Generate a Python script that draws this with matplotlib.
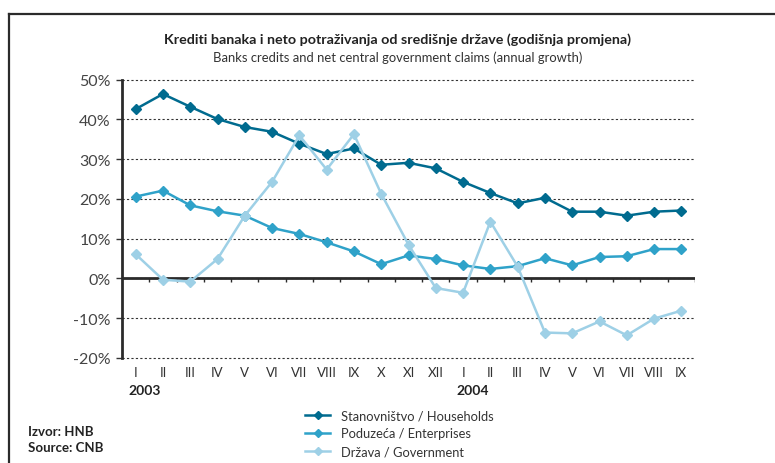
import numpy as np
import matplotlib
matplotlib.use("Agg")
import matplotlib.pyplot as plt
from matplotlib.lines import Line2D

plt.rcParams['font.family'] = ['Lato', 'DejaVu Sans']

# podaci
months = ['I', 'II', 'III', 'IV', 'V', 'VI', 'VII', 'VIII', 'IX', 'X', 'XI', 'XII',
          'I', 'II', 'III', 'IV', 'V', 'VI', 'VII', 'VIII', 'IX']
years = ['2003', '2004']
year_start = [0, 12]

households = [42.6, 46.4, 43.2, 40.1, 38.1, 36.9, 33.9, 31.3, 32.7, 28.6, 29.1, 27.7,
              24.3, 21.5, 18.9, 20.3, 16.8, 16.8, 15.8, 16.8, 17.1]
enterprises = [20.6, 22.1, 18.4, 16.9, 15.8, 12.7, 11.2, 9.1, 6.8, 3.6, 5.8, 4.9,
               3.3, 2.4, 3.1, 5.1, 3.3, 5.4, 5.6, 7.4, 7.4]
government = [6.1, -0.3, -0.8, 4.9, 15.8, 24.3, 36.0, 27.4, 36.3, 21.3, 8.5, -2.4,
              -3.6, 14.3, 3.0, -13.6, -13.8, -10.8, -14.3, -10.1, -8.1]

labels = ['Stanovništvo / Households', 'Poduzeća / Enterprises', 'Država / Government']
colors = ['#006b8f', '#2fa2c9', '#9ed0e6']

fig = plt.figure(figsize=(7.75, 4.64), dpi=100)
ax = fig.add_axes([122 / 775, 1 - 359 / 464, (695 - 122) / 775, (359 - 80.7) / 464])

x = np.arange(len(months))
for vals, lab, c in zip([households, enterprises, government], labels, colors):
    ax.plot(x, vals, '-', color=c, lw=1.8, marker='D', ms=5.5, label=lab)

ax.set_xlim(-0.5, len(months) - 0.5)
ax.set_ylim(-20, 50)
ax.set_yticks(np.arange(-20, 51, 10))
ax.set_yticklabels(['%d%%' % v for v in np.arange(-20, 51, 10)], fontsize=11.5, color='#444444')
ax.set_xticks(x)
ax.set_xticklabels(months, fontsize=9.5, color='#333333')
ax.tick_params(axis='x', length=0, pad=6)
ax.tick_params(axis='y', length=4, width=1, color='#333333', pad=4)

for s in ['top', 'right', 'bottom']:
    ax.spines[s].set_visible(False)
ax.spines['left'].set_linewidth(2)
ax.spines['left'].set_color('#2b2b2b')

ax.yaxis.grid(True, linestyle=(0, (2, 2)), color='#333333', lw=0.8)
for gl in ax.get_ygridlines():
    gl.set_clip_on(False)
ax.set_axisbelow(True)
ax.axhline(0, color='#2b2b2b', lw=2, zorder=1.5)
ax.vlines(np.arange(len(months)) + 0.5, -0.8, 0, color='#2b2b2b', lw=1, zorder=1.5)

for yr, st in zip(years, year_start):
    ax.text(st - 0.25, -0.115, yr, transform=ax.get_xaxis_transform(),
            fontsize=10, fontweight='bold', ha='left', va='center', color='#222222')

fig.text(0.513, 1 - 40 / 464, 'Krediti banaka i neto potraživanja od središnje države (godišnja promjena)',
         fontsize=10.3, fontweight='bold', ha='center', va='center', color='#222222')
fig.text(0.513, 1 - 58 / 464, 'Banks credits and net central government claims (annual growth)',
         fontsize=9.4, ha='center', va='center', color='#333333')

fig.text(28 / 775, 1 - 432 / 464, 'Izvor: HNB', fontsize=9.5, fontweight='bold', va='center', color='#222222')
fig.text(28 / 775, 1 - 448 / 464, 'Source: CNB', fontsize=9.5, fontweight='bold', va='center', color='#222222')

fig.legend(loc='upper left', bbox_to_anchor=(293 / 775, 1 - 399 / 464), frameon=False,
           fontsize=9.3, handlelength=2, handletextpad=0.8, labelspacing=0.45,
           markerscale=0.8, labelcolor='#333333')

# okvir
fig.add_artist(Line2D([8.5 / 775, 1], [1 - 14.5 / 464, 1 - 14.5 / 464], color='#2b2b2b', lw=1.6))
fig.add_artist(Line2D([8.5 / 775, 8.5 / 775], [0, 1 - 14.5 / 464], color='#2b2b2b', lw=1.6))

fig.savefig('out.png', dpi=100)
